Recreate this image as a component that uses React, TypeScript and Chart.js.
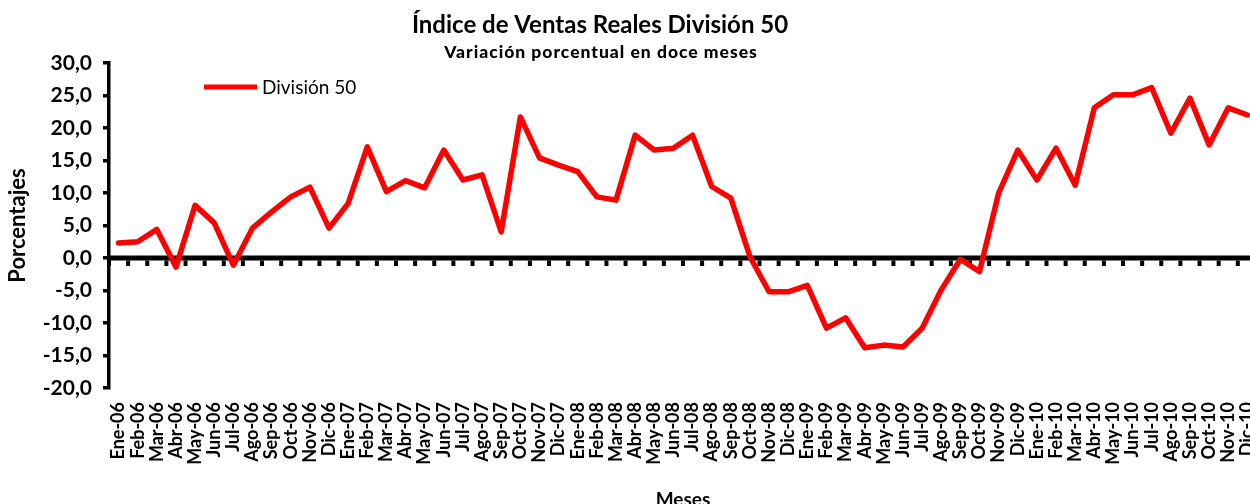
import { useEffect, useRef } from 'react';
import { Chart, registerables } from 'chart.js';

Chart.register(...registerables);

const TITLE = 'Índice de Ventas Reales División 50';
const SUBTITLE = 'Variación porcentual en doce meses';
const SERIES_NAME = 'División 50';
const X_TITLE = 'Meses';
const Y_TITLE = 'Porcentajes';

const months = [
  'Ene-06', 'Feb-06', 'Mar-06', 'Abr-06', 'May-06', 'Jun-06', 'Jul-06', 'Ago-06', 'Sep-06', 'Oct-06', 'Nov-06', 'Dic-06',
  'Ene-07', 'Feb-07', 'Mar-07', 'Abr-07', 'May-07', 'Jun-07', 'Jul-07', 'Ago-07', 'Sep-07', 'Oct-07', 'Nov-07', 'Dic-07',
  'Ene-08', 'Feb-08', 'Mar-08', 'Abr-08', 'May-08', 'Jun-08', 'Jul-08', 'Ago-08', 'Sep-08', 'Oct-08', 'Nov-08', 'Dic-08',
  'Ene-09', 'Feb-09', 'Mar-09', 'Abr-09', 'May-09', 'Jun-09', 'Jul-09', 'Ago-09', 'Sep-09', 'Oct-09', 'Nov-09', 'Dic-09',
  'Ene-10', 'Feb-10', 'Mar-10', 'Abr-10', 'May-10', 'Jun-10', 'Jul-10', 'Ago-10', 'Sep-10', 'Oct-10', 'Nov-10', 'Dic-10',
];

const division50 = [
  2.3, 2.5, 4.4, -1.4, 8.1, 5.4, -1.1, 4.6, 7.1, 9.4, 10.9, 4.6,
  8.4, 17.1, 10.2, 11.9, 10.8, 16.6, 12.0, 12.8, 4.0, 21.7, 15.4, 14.3,
  13.3, 9.4, 8.9, 18.9, 16.6, 16.9, 18.9, 11.0, 9.2, 0.2, -5.2, -5.2,
  -4.2, -10.8, -9.2, -13.8, -13.4, -13.7, -10.8, -4.9, -0.2, -2.1, 10.0, 16.6,
  12.0, 16.9, 11.2, 23.1, 25.1, 25.1, 26.2, 19.2, 24.6, 17.4, 23.1, 22.0,
];

const Y_MIN = -20;
const Y_MAX = 30;
const Y_STEP = 5;

const FONT = 'Lato';

const decorPlugin = {
  id: 'decor',
  beforeDatasetsDraw(chart: any) {
    const { ctx, chartArea, scales } = chart;
    const x = scales.x;
    const y = scales.y;
    const y0 = y.getPixelForValue(0);
    ctx.save();
    ctx.fillStyle = '#000';
    ctx.fillRect(chartArea.left, y0 - 2.5, chartArea.right - chartArea.left, 5);
    for (let i = 0; i <= months.length; i++) {
      const px = x.getPixelForValue(i - 0.5);
      ctx.fillRect(px - 2, y0 + 2.5, 4, 5.5);
    }
    ctx.restore();
  },
  afterDraw(chart: any) {
    const { ctx } = chart;
    ctx.save();
    ctx.fillStyle = '#000';
    ctx.textAlign = 'center';
    ctx.textBaseline = 'alphabetic';
    ctx.font = `bold 24px ${FONT}`;
    ctx.fillText(TITLE, 600, 33);
    ctx.font = `900 17.5px ${FONT}`;
    (ctx as any).letterSpacing = '1px';
    ctx.fillText(SUBTITLE, 601, 58);
    (ctx as any).letterSpacing = '0px';
    // legend
    ctx.strokeStyle = '#ff0000';
    ctx.lineWidth = 5;
    ctx.beginPath();
    ctx.moveTo(204, 87);
    ctx.lineTo(257, 87);
    ctx.stroke();
    ctx.font = `19px ${FONT}`;
    ctx.textAlign = 'left';
    ctx.textBaseline = 'middle';
    ctx.fillText(SERIES_NAME, 262, 88);
    ctx.restore();
  },
};

export default function App() {
  const ref = useRef<HTMLCanvasElement | null>(null);
  useEffect(() => {
    if (!ref.current) return;
    const chart = new Chart(ref.current, {
      type: 'line',
      data: {
        labels: months,
        datasets: [
          {
            label: SERIES_NAME,
            data: division50,
            borderColor: '#ff0000',
            backgroundColor: '#ff0000',
            borderWidth: 5.5,
            pointRadius: 0,
            tension: 0,
            borderJoinStyle: 'round',
            borderCapStyle: 'round',
          },
        ],
      },
      options: {
        animation: false,
        responsive: false,
        devicePixelRatio: 1,
        layout: { padding: { top: 63, right: 3, bottom: 0, left: 0 } },
        plugins: {
          legend: { display: false },
          title: { display: false },
          tooltip: { enabled: false },
        },
        scales: {
          x: {
            type: 'category',
            offset: true,
            grid: { display: false, drawTicks: false },
            border: { display: false },
            ticks: {
              autoSkip: false,
              minRotation: 90,
              maxRotation: 90,
              padding: 14,
              color: '#000',
              font: { family: FONT, weight: 'bold', size: 18 },
            },
            title: {
              display: true,
              text: X_TITLE,
              color: '#000',
              font: { family: FONT, weight: 'bold', size: 19 },
              padding: { top: 0, bottom: 4 },
            },
            afterFit: (s: any) => {
              s.height = 127;
            },
          },
          y: {
            min: Y_MIN,
            max: Y_MAX,
            ticks: {
              stepSize: Y_STEP,
              padding: 11,
              color: '#000',
              font: { family: FONT, weight: 'bold', size: 21 },
              callback: (v: any) => Number(v).toFixed(1).replace('.', ','),
            },
            grid: {
              display: true,
              drawOnChartArea: false,
              drawTicks: true,
              tickLength: 6,
              color: '#000',
              lineWidth: 3.5,
            },
            border: { display: true, color: '#000', width: 3.5 },
            title: {
              display: true,
              text: Y_TITLE,
              color: '#000',
              font: { family: FONT, weight: 'bold', size: 22 },
              padding: { top: 5, bottom: 0 },
            },
            afterFit: (s: any) => {
              s.width = 109;
            },
          },
        },
      },
      plugins: [decorPlugin],
    });
    return () => chart.destroy();
  }, []);

  return (
    <div style={{ position: 'absolute', left: 0, top: 0, width: 1250, height: 504, overflow: 'hidden', background: '#fff' }}>
      <canvas ref={ref} width={1283} height={515} style={{ display: 'block' }} />
    </div>
  );
}
